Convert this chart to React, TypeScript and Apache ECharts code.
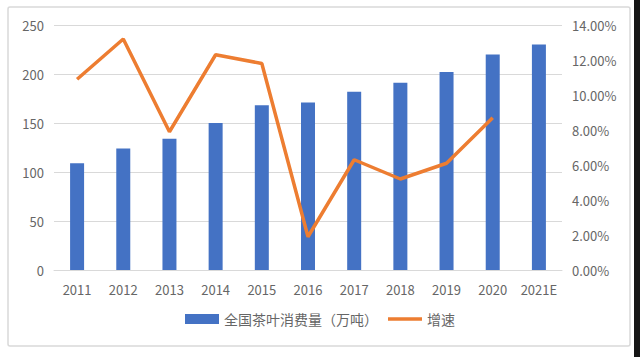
import React, { useEffect, useRef } from "react";
import * as echarts from "echarts";

const years = ["2011", "2012", "2013", "2014", "2015", "2016", "2017", "2018", "2019", "2020", "2021E"];
const consumption = [109, 124, 134, 150, 168, 171, 182, 191, 202, 220, 230];
const growth = [0.109, 0.132, 0.079, 0.123, 0.118, 0.019, 0.063, 0.052, 0.061, 0.087, null];
const barName = "全国茶叶消费量（万吨）";
const lineName = "增速";

const FONT = "'Noto Sans CJK SC', 'Noto Sans', sans-serif";

export default function App() {
  const ref = useRef<HTMLDivElement>(null);
  useEffect(() => {
    if (!ref.current) return;
    const chart = echarts.init(ref.current, undefined, { renderer: "svg" });
    chart.setOption({
      animation: false,
      backgroundColor: "#ffffff",
      textStyle: { fontFamily: FONT },
      graphic: [
        {
          type: "rect",
          shape: { x: 8, y: 7, width: 622, height: 339, r: 2 },
          style: { fill: "none", stroke: "#d9d9d9", lineWidth: 1.5 },
          silent: true,
        },
        {
          type: "rect",
          shape: { x: 634, y: 0, width: 6, height: 357 },
          style: { fill: "#161616" },
          silent: true,
        },
      ],
      legend: {
        bottom: 26,
        left: "center",
        itemWidth: 34,
        itemHeight: 10,
        itemGap: 10,
        textStyle: { fontSize: 14, color: "#666666", fontFamily: FONT },
        data: [
          { name: barName, icon: "rect" },
          { name: lineName, icon: "path://M0,0 L34,0 L34,3.5 L0,3.5 Z" },
        ],
      },
      grid: { left: 54, right: 78, top: 25, bottom: 87 },
      xAxis: {
        type: "category",
        data: years,
        axisTick: { show: false },
        axisLine: { lineStyle: { color: "#d9d9d9" } },
        axisLabel: { color: "#666666", fontSize: 13, margin: 13, interval: 0, fontFamily: FONT },
      },
      yAxis: [
        {
          type: "value",
          min: 0,
          max: 250,
          interval: 50,
          axisLine: { show: false },
          axisTick: { show: false },
          splitLine: { lineStyle: { color: "#d9d9d9" } },
          axisLabel: { color: "#666666", fontSize: 13, margin: 10, fontFamily: FONT },
        },
        {
          type: "value",
          min: 0,
          max: 0.14,
          interval: 0.02,
          axisLine: { show: false },
          axisTick: { show: false },
          splitLine: { show: false },
          axisLabel: {
            color: "#666666",
            fontSize: 13,
            margin: 10,
            fontFamily: FONT,
            formatter: (v: number) => (v * 100).toFixed(2) + "%",
          },
        },
      ],
      series: [
        {
          name: barName,
          type: "bar",
          data: consumption,
          barWidth: 14,
          itemStyle: { color: "#4472C4" },
        },
        {
          name: lineName,
          type: "line",
          yAxisIndex: 1,
          data: growth,
          symbol: "none",
          lineStyle: { color: "#ED7D31", width: 3.5 },
          itemStyle: { color: "#ED7D31" },
        },
      ],
    });
    return () => chart.dispose();
  }, []);
  return (
    <div
      ref={ref}
      style={{ position: "absolute", left: 0, top: 0, width: 640, height: 357 }}
    />
  );
}
